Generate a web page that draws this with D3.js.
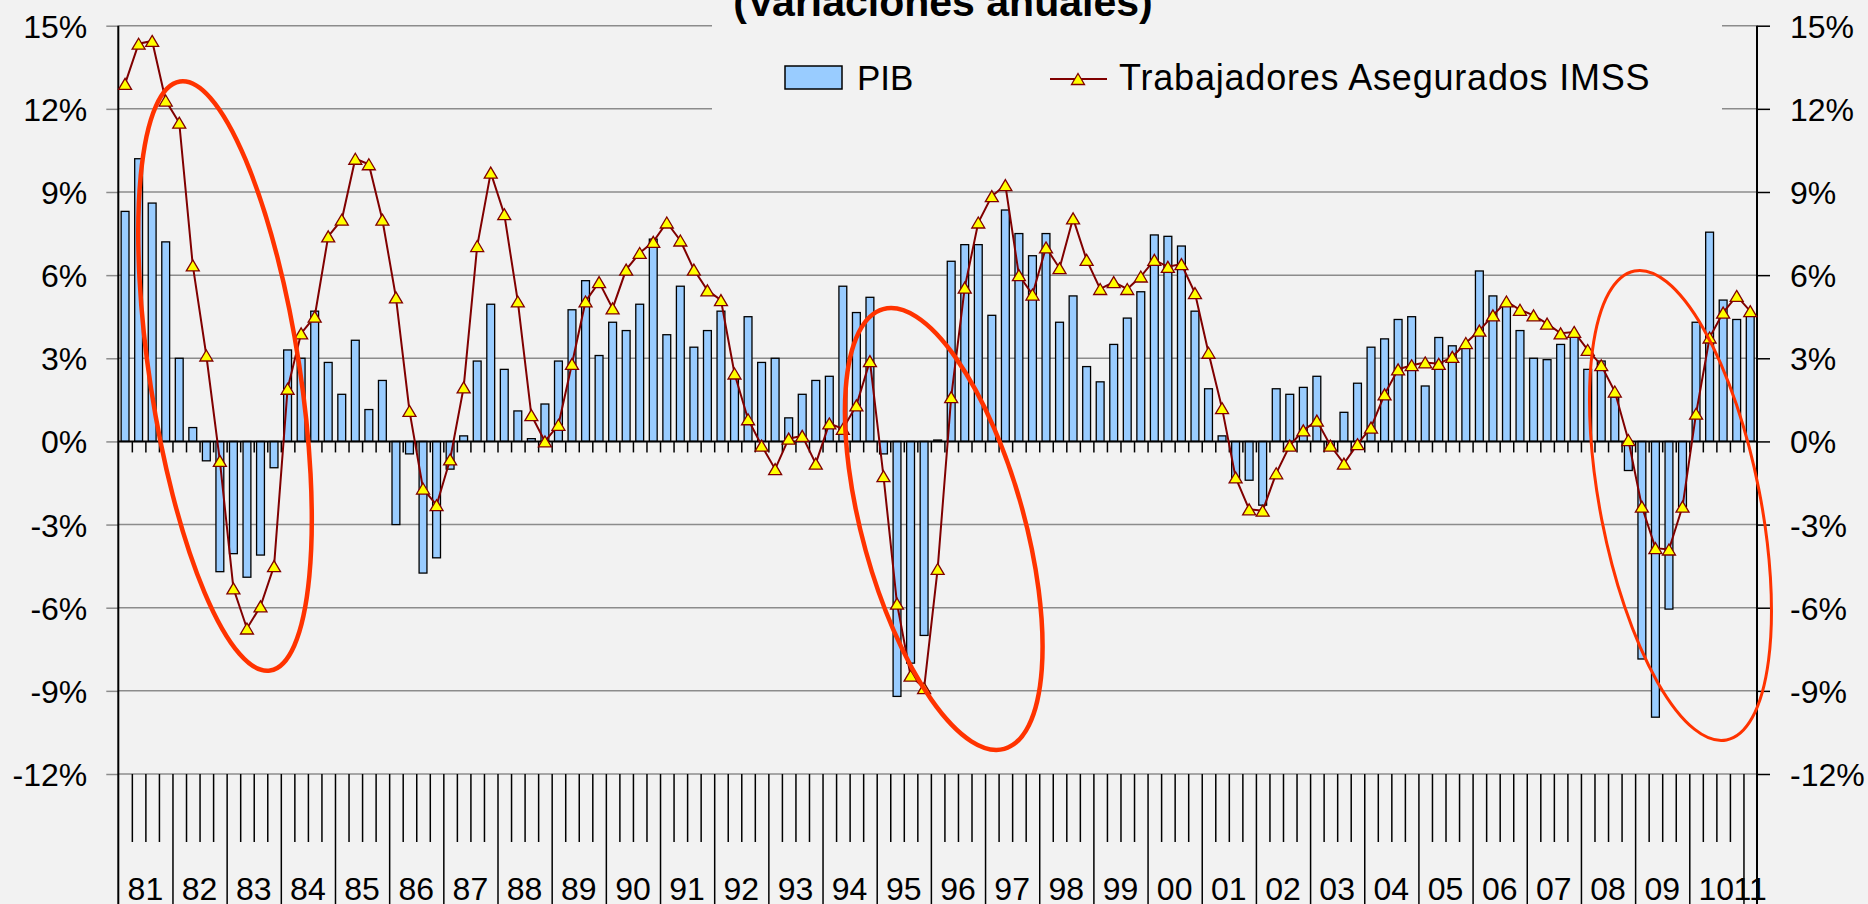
<!DOCTYPE html>
<html>
<head>
<meta charset="utf-8">
<script src="https://cdn.jsdelivr.net/npm/d3@7/dist/d3.min.js"></script>
<style>
  html, body { margin: 0; padding: 0; background: #f2f2f2; overflow: hidden; }
  svg { display: block; }
  text { font-family: "Liberation Sans", Arial, sans-serif; fill: #000; }
</style>
</head>
<body>
<svg id="chart"></svg>
<script>
// year labels (quarterly data, 1981-I to 2011-I)
const years = ['81','82','83','84','85','86','87','88','89','90','91','92','93','94','95',
  '96','97','98','99','00','01','02','03','04','05','06','07','08','09','10','11'];

// PIB, variacion anual (%)
const pib = [
  8.3, 10.2, 8.6, 7.2,   3.0, 0.5, -0.7, -4.7,   -4.05, -4.9, -4.1, -0.95,
  3.3, 3.0, 4.7, 2.85,   1.7, 3.65, 1.15, 2.2,   -3.0, -0.45, -4.75, -4.2,
  -1.0, 0.2, 2.9, 4.95,  2.6, 1.1, 0.1, 1.35,    2.9, 4.75, 5.8, 3.1,
  4.3, 4.0, 4.95, 7.3,   3.85, 5.6, 3.4, 4.0,    4.7, 2.4, 4.5, 2.85,
  3.0, 0.85, 1.7, 2.2,   2.35, 5.6, 4.65, 5.2,   -0.45, -9.2, -8.0, -7.0,
  0.05, 6.5, 7.1, 7.1,   4.55, 8.35, 7.5, 6.7,   7.5, 4.3, 5.25, 2.7,
  2.15, 3.5, 4.45, 5.4,  7.45, 7.4, 7.05, 4.7,   1.9, 0.2, -1.4, -1.4,
  -2.3, 1.9, 1.7, 1.95,  2.35, -0.2, 1.05, 2.1,  3.4, 3.7, 4.4, 4.5,
  2.0, 3.75, 3.45, 3.45, 6.15, 5.25, 4.9, 4.0,   3.0, 2.95, 3.5, 3.8,
  2.6, 2.9, 1.6, -1.05,  -7.85, -9.95, -6.05, -2.35, 4.3, 7.55, 5.1, 4.4,
  4.6
];

// Trabajadores asegurados IMSS, variacion anual (%)
const imss = [
  12.9, 14.35, 14.45, 12.3,  11.5, 6.35, 3.1, -0.7,   -5.3, -6.75, -5.95, -4.5,
  1.9, 3.9, 4.5, 7.4,        8.0, 10.2, 10.0, 8.0,    5.2, 1.1, -1.7, -2.3,
  -0.65, 1.95, 7.05, 9.7,    8.2, 5.05, 0.95, 0.0,    0.6, 2.8, 5.05, 5.75,
  4.8, 6.2, 6.8, 7.2,        7.9, 7.25, 6.2, 5.45,    5.1, 2.45, 0.8, -0.15,
  -1.0, 0.1, 0.2, -0.8,      0.65, 0.45, 1.3, 2.9,    -1.25, -5.85, -8.45, -8.9,
  -4.6, 1.6, 5.55, 7.9,      8.85, 9.25, 6.0, 5.3,    7.0, 6.25, 8.05, 6.55,
  5.5, 5.75, 5.5, 5.95,      6.55, 6.3, 6.4, 5.35,    3.2, 1.2, -1.3, -2.45,
  -2.5, -1.15, -0.15, 0.4,   0.75, -0.15, -0.8, -0.1, 0.5, 1.7, 2.6, 2.75,
  2.85, 2.8, 3.05, 3.55,     4.0, 4.55, 5.05, 4.75,   4.55, 4.25, 3.9, 3.95,
  3.3, 2.75, 1.8, 0.05,      -2.35, -3.85, -3.9, -2.35, 1.0, 3.75, 4.65, 5.25,
  4.7
];

const yTicks = [-12, -9, -6, -3, 0, 3, 6, 9, 12, 15];

const titleText = '(Variaciones anuales)';
const legendBars = 'PIB';
const legendLine = 'Trabajadores Asegurados IMSS';

// hand-drawn highlight ellipses (position in category / value units)
const notes = [
  { at: 7.88,   v: 2.36,  rx: 75, ry: 298, tilt: -8.7,  w: 4.5 },
  { at: 60.95,  v: -3.16, rx: 81, ry: 228, tilt: -15.4, w: 4.5 },
  { at: 115.35, v: -2.31, rx: 80, ry: 239, tilt: -11.1, w: 3 }
];

const W = 1868, H = 904;
const plotLeft = 118.3, plotRight = 1757, plotTop = 25.7, plotBottom = 774;

const categories = pib.map((_, i) => years[Math.floor(i / 4)] + '-' + (i % 4 + 1));

const svg = d3.select('#chart')
    .attr('width', W)
    .attr('height', H);

svg.append('rect')
    .attr('width', W)
    .attr('height', H)
    .attr('fill', '#f2f2f2');

const x = d3.scaleBand()
    .domain(categories)
    .range([plotLeft, plotRight])
    .padding(0);

// same range, but in category-boundary units (for tick marks)
const xi = d3.scaleLinear()
    .domain([0, categories.length])
    .range([plotLeft, plotRight]);

const y = d3.scaleLinear()
    .domain([-12, 15])
    .range([plotBottom, plotTop]);

// gridlines
svg.append('g')
    .attr('class', 'grid')
  .selectAll('line')
  .data(yTicks.filter(d => d !== 0))
  .join('line')
    .attr('x1', plotLeft)
    .attr('x2', plotRight)
    .attr('y1', d => y(d))
    .attr('y2', d => y(d))
    .attr('stroke', '#8c8c8c')
    .attr('stroke-width', 1.5);

// legend box hides part of the top gridlines
svg.append('rect')
    .attr('x', 712)
    .attr('y', 0)
    .attr('width', 1722 - 712)
    .attr('height', 150)
    .attr('fill', '#f2f2f2');

// y axes
const yLeft = svg.append('g')
    .attr('transform', `translate(${plotLeft},0)`)
    .call(d3.axisLeft(y).tickValues(yTicks).tickSize(12).tickPadding(19).tickFormat(d => d + '%'));

const yRight = svg.append('g')
    .attr('transform', `translate(${plotRight},0)`)
    .call(d3.axisRight(y).tickValues(yTicks).tickSize(13).tickPadding(20).tickFormat(d => d + '%'));

[yLeft, yRight].forEach(g => {
  g.select('.domain').remove();
  g.selectAll('.tick line').attr('stroke', '#000').attr('stroke-width', 1.5);
  g.selectAll('.tick text')
      .attr('dy', '0.36em')
      .style('font-size', '32px')
      .style('font-family', '"Liberation Sans", Arial, sans-serif')
      .attr('fill', '#000');
});
yLeft.selectAll('.tick line').attr('stroke', '#8c8c8c');

// quarter ticks hanging under the zero line
svg.append('g')
    .attr('transform', `translate(0,${y(0)})`)
    .call(d3.axisBottom(xi).tickValues(d3.range(1, categories.length)).tickSize(11).tickFormat(''))
    .call(g => g.select('.domain').remove())
    .call(g => g.selectAll('.tick line').attr('stroke', '#000').attr('stroke-width', 1.5));

// bottom category axis: short quarter ticks, long year separators
const bounds = d3.range(1, categories.length);
svg.append('g')
    .attr('transform', `translate(0,${plotBottom})`)
    .call(d3.axisBottom(xi).tickValues(bounds.filter(d => d % 4 !== 0)).tickSize(68).tickFormat(''))
    .call(g => g.select('.domain').remove())
    .call(g => g.selectAll('.tick line').attr('stroke', '#000').attr('stroke-width', 1.5));

svg.append('g')
    .attr('transform', `translate(0,${plotBottom})`)
    .call(d3.axisBottom(xi).tickValues(bounds.filter(d => d % 4 === 0)).tickSize(H - plotBottom).tickFormat(''))
    .call(g => g.select('.domain').remove())
    .call(g => g.selectAll('.tick line').attr('stroke', '#000').attr('stroke-width', 1.5));

svg.append('g')
  .selectAll('text')
  .data(years)
  .join('text')
    .attr('x', (d, k) => xi(4 * k + Math.min(4, categories.length - 4 * k) / 2))
    .attr('y', 900)
    .attr('text-anchor', 'middle')
    .style('font-size', '32px')
    .text(d => d);

// bars
svg.append('g')
  .selectAll('rect')
  .data(pib)
  .join('rect')
    .attr('x', (d, i) => x(categories[i]) + x.bandwidth() * 0.21)
    .attr('width', x.bandwidth() * 0.58)
    .attr('y', d => y(Math.max(0, d)))
    .attr('height', d => Math.abs(y(d) - y(0)))
    .attr('fill', '#99ccff')
    .attr('stroke', '#000')
    .attr('stroke-width', 1.3);

// vertical axis lines and zero line
svg.append('g')
  .selectAll('line')
  .data([plotLeft, plotRight])
  .join('line')
    .attr('x1', d => d)
    .attr('x2', d => d)
    .attr('y1', plotTop)
    .attr('y2', H)
    .attr('stroke', '#000')
    .attr('stroke-width', 2);

svg.append('line')
    .attr('x1', plotLeft)
    .attr('x2', plotRight)
    .attr('y1', y(0))
    .attr('y2', y(0))
    .attr('stroke', '#000')
    .attr('stroke-width', 2);

// IMSS line with triangle markers
const cx = i => x(categories[i]) + x.bandwidth() / 2;
const tri = 'M0,-5.5L6.5,5.5L-6.5,5.5Z';

const line = d3.line()
    .x((d, i) => cx(i))
    .y(d => y(d));

svg.append('path')
    .datum(imss)
    .attr('d', line)
    .attr('fill', 'none')
    .attr('stroke', '#800000')
    .attr('stroke-width', 2);

svg.append('g')
  .selectAll('path')
  .data(imss)
  .join('path')
    .attr('d', tri)
    .attr('transform', (d, i) => `translate(${cx(i)},${y(d)})`)
    .attr('fill', '#ffff00')
    .attr('stroke', '#800000')
    .attr('stroke-width', 1.3);

// title (partly cut at the top of the picture)
svg.append('text')
    .attr('x', 943)
    .attr('y', 16)
    .attr('text-anchor', 'middle')
    .style('font-size', '41px')
    .style('font-weight', 'bold')
    .text(titleText);

// legend
const legend = svg.append('g');
legend.append('rect')
    .attr('x', 785)
    .attr('y', 66)
    .attr('width', 57)
    .attr('height', 23)
    .attr('fill', '#99ccff')
    .attr('stroke', '#000')
    .attr('stroke-width', 1.5);
legend.append('text')
    .attr('x', 857)
    .attr('y', 90)
    .style('font-size', '35px')
    .text(legendBars);
legend.append('line')
    .attr('x1', 1050)
    .attr('x2', 1107)
    .attr('y1', 79)
    .attr('y2', 79)
    .attr('stroke', '#800000')
    .attr('stroke-width', 2);
legend.append('path')
    .attr('d', tri)
    .attr('transform', 'translate(1078,79)')
    .attr('fill', '#ffff00')
    .attr('stroke', '#800000')
    .attr('stroke-width', 1.3);
legend.append('text')
    .attr('x', 1119)
    .attr('y', 90)
    .style('font-size', '36px')
    .style('letter-spacing', '0.8px')
    .text(legendLine);

// highlight ellipses
svg.append('g')
  .selectAll('ellipse')
  .data(notes)
  .join('ellipse')
    .attr('transform', d => `translate(${xi(d.at)},${y(d.v)}) rotate(${d.tilt})`)
    .attr('rx', d => d.rx)
    .attr('ry', d => d.ry)
    .attr('fill', 'none')
    .attr('stroke', '#ff3300')
    .attr('stroke-width', d => d.w);
</script>
</body>
</html>
